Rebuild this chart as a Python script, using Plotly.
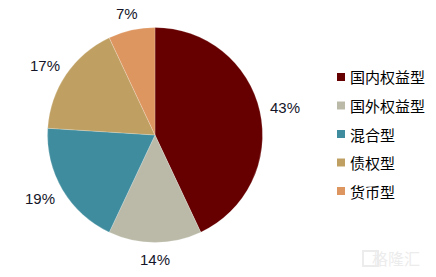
import math
import plotly.graph_objects as go

categories = ["国内权益型", "国外权益型", "混合型", "债权型", "货币型"]
values = [43, 14, 19, 17, 7]
colors = ["#660000", "#BBBAA8", "#3F8C9E", "#BFA062", "#DE9660"]
pct_labels = [f"{v}%" for v in values]

W, H = 436, 277
cx, cy, R = 155, 135, 107.5
FS = 15

fig = go.Figure(go.Pie(
    labels=categories,
    values=values,
    textinfo="none",
    sort=False,
    direction="clockwise",
    rotation=0,
    marker=dict(colors=colors, line=dict(color="rgba(255,255,255,0.4)", width=0.5)),
    domain=dict(x=[(cx - R) / W, (cx + R) / W], y=[(H - cy - R) / H, (H - cy + R) / H]),
    showlegend=False,
    hoverinfo="label+percent",
))

# outside percentage labels, positioned from slice mid-angles
total = sum(values)
cum = 0
gap = 11
for v, t in zip(values, pct_labels):
    mid = (cum + v / 2) / total * 2 * math.pi
    cum += v
    ux, uy = math.sin(mid), -math.cos(mid)
    w = FS * (0.556 * (len(t) - 1) + 0.889)
    h = 12
    px = cx + (R + gap) * ux + ux * w / 2
    py = cy + (R + gap) * uy + uy * h / 2
    fig.add_annotation(xref="paper", yref="paper", x=px / W, y=1 - py / H,
                       text=t, showarrow=False, xanchor="center", yanchor="middle",
                       font=dict(family="Liberation Sans, Arial", size=FS, color="#15152a"))

# manual legend
leg_x0, leg_y0, leg_dy = 337, 77, 28.5
for i, (name, col) in enumerate(zip(categories, colors)):
    yc = leg_y0 + i * leg_dy
    fig.add_shape(type="rect", xref="paper", yref="paper",
                  x0=leg_x0 / W, x1=(leg_x0 + 8) / W,
                  y0=1 - (yc + 4) / H, y1=1 - (yc - 4) / H,
                  fillcolor=col, line=dict(width=0))
    fig.add_annotation(xref="paper", yref="paper", x=(leg_x0 + 11) / W, y=1 - yc / H,
                       text=name, showarrow=False, xanchor="left", yanchor="middle",
                       font=dict(family="Noto Sans CJK SC", size=15, color="#000000"))

# watermark
fig.add_annotation(xref="paper", yref="paper", x=422 / W, y=1 - 258 / H, text="格隆汇",
                   showarrow=False, xanchor="right", yanchor="middle",
                   font=dict(family="Noto Sans CJK SC", size=16, color="#ececec"))
fig.add_shape(type="rect", xref="paper", yref="paper",
              x0=363 / W, x1=378 / W, y0=1 - 266 / H, y1=1 - 251 / H,
              line=dict(color="#ececec", width=2))

fig.update_layout(width=W, height=H, margin=dict(l=0, r=0, t=0, b=0),
                  paper_bgcolor="white", plot_bgcolor="white")
fig.write_html("out.html")
